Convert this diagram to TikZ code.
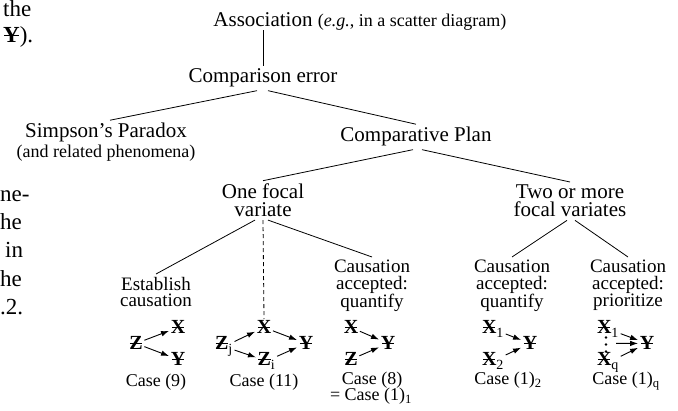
\documentclass[tikz,border=0pt]{standalone}
\usepackage{fontspec}
\setmainfont{Liberation Serif}
\usetikzlibrary{arrows.meta}
\newcommand{\bvar}[1]{{\bfseries\ooalign{#1\cr\hidewidth\rule[0.29em]{0.62em}{0.075em}\hidewidth\cr}}}
\newcommand{\fsz}[2]{\fontsize{#1}{#2}\selectfont}
\begin{document}
\begin{tikzpicture}[x=1pt,y=-1pt,
  big/.style={font=\fsz{21}{18}, inner xsep=0pt, inner ysep=3pt, align=center},
  mid/.style={font=\fsz{19}{16.5}, inner xsep=0pt, inner ysep=3pt, align=center},
  one/.style={inner xsep=0pt, inner ysep=3pt, anchor=base},
  cas/.style={font=\fsz{18}{15}, inner sep=0pt, anchor=base},
  var/.style={font=\fsz{20}{20}, inner sep=1.5pt, anchor=base},
  body/.style={font=\fsz{23}{28}, inner sep=0pt, anchor=base west},
  edge/.style={line width=0.8pt},
  arr/.style={line width=0.9pt, -{Latex[length=8pt,width=5.5pt]}}]
\useasboundingbox (0,0) rectangle (678,411);
% page text fragments
\node[body] (t1) at (3,16.5) {the};
\node[body] (t2) at (3,43) {\bvar{Y}).};
\node[body] (t3) at (0,202) {ne-};
\node[body] (t4) at (0,230) {he};
\node[body] (t5) at (5,258) {in};
\node[body] (t6) at (0,287) {he};
\node[body] (t7) at (0,315) {.2.};
% tree labels
\node[one, font=\fsz{21}{18}] (assoc) at (263,27) {Association};
\node[inner sep=0pt, anchor=base west, font=\fsz{18}{18}] (assocp) at ([xshift=5pt]assoc.base east) {(\textit{e.g.}, in a scatter diagram)};
\node[one, font=\fsz{21}{18}] (cmp) at (263,83) {Comparison error};
\node[one, font=\fsz{21}{18}] (simp) at (106,138) {Simpson’s Paradox};
\node[one, font=\fsz{18}{18}, inner ysep=0pt] (rel) at (106,158) {(and related phenomena)};
\node[one, font=\fsz{21}{18}] (cp) at (416,142) {Comparative Plan};
\node[big, anchor=north] (onef) at (263,180.7) {One focal\\variate};
\node[big, anchor=north] (twom) at (570,182) {Two or more\\focal variates};
\node[mid, anchor=north] (est) at (156,274) {Establish\\causation};
\node[mid, anchor=north] (ca1) at (372,257) {Causation\\accepted:\\quantify};
\node[mid, anchor=north] (ca2) at (512,257) {Causation\\accepted:\\quantify};
\node[mid, anchor=north] (ca3) at (628,257) {Causation\\accepted:\\prioritize};
% tree connectors
\draw[edge] (assoc.south) -- (cmp.north);
\draw[edge] ([xshift=-6pt]cmp.south) -- ([xshift=4pt]simp.north);
\draw[edge] ([xshift=5pt]cmp.south) -- (cp.north);
\draw[edge] ([xshift=-3pt]cp.south) -- (onef.north);
\draw[edge] ([xshift=6pt]cp.south) -- (twom.north);
\draw[edge] ([xshift=-8pt]onef.south) -- (est.north);
\draw[edge] ([xshift=5pt]onef.south) -- (ca1.north);
\draw[edge] ([xshift=-3pt]twom.south) -- (ca2.north);
\draw[edge] ([xshift=5pt]twom.south) -- (ca3.north);
% case 9
\node[var] (z9) at (136,350) {\bvar{Z}};
\node[var] (x9) at (178,334) {\bvar{X}};
\node[var] (y9) at (178,366) {\bvar{Y}};
\draw[arr] (z9) -- (x9);
\draw[arr] (z9) -- (y9);
% case 11
\node[var] (zj) at (224,350) {\bvar{Z}\textsubscript{j}};
\node[var] (x11) at (264,334) {\bvar{X}};
\node[var] (y11) at (306,350) {\bvar{Y}};
\node[var] (zi) at (266.5,366) {\bvar{Z}\textsubscript{i}};
\draw[edge, dash pattern=on 4pt off 3pt] (onef.south) -- (x11.north);
\draw[arr] (zj) -- (x11);
\draw[arr] (zj) -- (zi);
\draw[arr] (x11) -- (y11);
\draw[arr] (zi) -- (y11);
% case 8
\node[var] (x8) at (351,334) {\bvar{X}};
\node[var] (z8) at (351,366) {\bvar{Z}};
\node[var] (y8) at (388,350) {\bvar{Y}};
\draw[arr] (x8) -- (y8);
\draw[arr] (z8) -- (y8);
% case 1_2
\node[var] (xa) at (493,334) {\bvar{X}\textsubscript{1}};
\node[var] (xb) at (493,366) {\bvar{X}\textsubscript{2}};
\node[var] (ya) at (530,350) {\bvar{Y}};
\draw[arr] (xa) -- (ya);
\draw[arr] (xb) -- (ya);
% case 1_q
\node[var] (xc) at (608,334) {\bvar{X}\textsubscript{1}};
\node[var] (xq) at (608,366) {\bvar{X}\textsubscript{q}};
\node[var] (yq) at (647,350) {\bvar{Y}};
\coordinate (qm) at (616,343.4);
\foreach \yy in {337.5,344.5,351.5} \fill (606,\yy) circle (1.4pt);
\draw[arr] (xc) -- (yq);
\draw[arr] (qm) -- (yq);
\draw[arr] (xq) -- (yq);
% case labels
\node[cas] (c9) at (156,387) {Case (9)};
\node[cas] (c11) at (264,387) {Case (11)};
\node[cas] (c8) at (372,384.5) {Case (8)};
\node[cas] (c8b) at (371,401) {= Case (1)\textsubscript{1}};
\node[cas] (c12) at (508,385) {Case (1)\textsubscript{2}};
\node[cas] (c1q) at (626,385) {Case (1)\textsubscript{q}};
\end{tikzpicture}
\end{document}
